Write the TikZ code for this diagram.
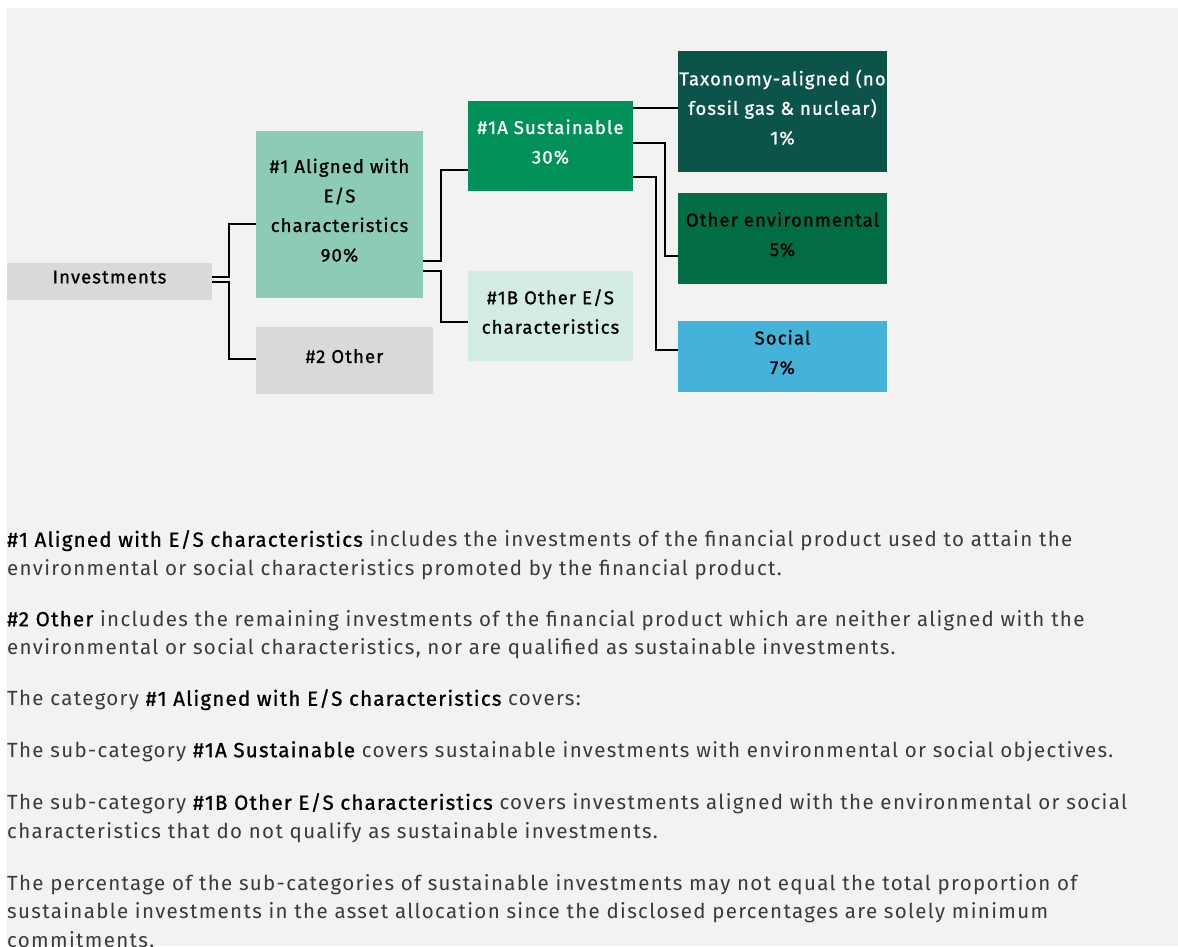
\documentclass[tikz,border=0pt]{standalone}
\usepackage{fontspec}
\setmainfont[LetterSpace=6.5]{Fira Sans}
\newfontfamily\medfont[FakeBold=1,LetterSpace=6]{Fira Sans}
\definecolor{pagegray}{HTML}{F2F2F2}
\definecolor{boxgray}{HTML}{D9D9D9}
\definecolor{alignedgreen}{HTML}{8DCBB9}
\definecolor{sustgreen}{HTML}{03915A}
\definecolor{paleteal}{HTML}{D2EBE4}
\definecolor{taxteal}{HTML}{0C5449}
\definecolor{envgreen}{HTML}{026D44}
\definecolor{socialblue}{HTML}{45B2D9}
\definecolor{bodytext}{HTML}{3A3A3A}
\newcommand{\hl}[1]{{\medfont\color{black}#1}}

\begin{document}
\begin{tikzpicture}[x=1pt,y=-1pt,
  box/.style={rectangle,inner sep=0pt,align=center,
    font=\medfont\fontsize{18.5}{29.5}\selectfont,
    execute at end node={\rule[-9pt]{0pt}{0pt}}},
  link/.style={draw=black,line width=1.6pt},
  para/.style={anchor=north west,inner sep=0pt,align=left,text=bodytext,
    font=\fontsize{20.5}{28.5}\selectfont}]
\useasboundingbox (0,0) rectangle (1178,946);
\fill[pagegray] (7,8) rectangle (1178,946);

% boxes of the tree
\node[box,fill=boxgray,minimum width=205,minimum height=37] (inv) at (109.5,281.5) {Investments};
\node[box,fill=alignedgreen,minimum width=167,minimum height=167] (al) at (339.5,214.5) {\#1 Aligned with\\E/S\\characteristics\\90\%};
\node[box,fill=boxgray,minimum width=177,minimum height=67] (oth) at (344.5,360.5) {\#2 Other};
\node[box,fill=sustgreen,text=white,minimum width=165,minimum height=90] (sus) at (550.5,146) {\#1A Sustainable\\30\%};
\node[box,fill=paleteal,minimum width=165,minimum height=90] (oes) at (550.5,316) {\#1B Other E/S\\characteristics};
\node[box,fill=taxteal,text=white,minimum width=209,minimum height=121] (tax) at (782.5,111.5) {Taxonomy-aligned (no\\fossil gas \& nuclear)\\1\%};
\node[box,fill=envgreen,minimum width=209,minimum height=91] (env) at (782.5,238.5) {Other environmental\\5\%};
\node[box,fill=socialblue,minimum width=209,minimum height=71] (soc) at (782.5,356.5) {Social\\7\%};

% connectors
\draw[link] ([yshift=4.5pt]inv.east) -- ++(17,0) |- ([yshift=-9.5pt]al.west);
\draw[link] ([yshift=-0.5pt]inv.east) -- ++(17,0) |- ([yshift=1.5pt]oth.west);
\draw[link] ([yshift=-46.5pt]al.east) -- ++(18,0) |- ([yshift=-24pt]sus.west);
\draw[link] ([yshift=-56.5pt]al.east) -- ++(18,0) |- ([yshift=-6pt]oes.west);
\draw[link] ([yshift=38pt]sus.east) -- ([yshift=3.5pt]tax.west);
\draw[link] ([yshift=3pt]sus.east) -- ++(32,0) |- ([yshift=-17.5pt]env.west);
\draw[link] ([yshift=-31pt]sus.east) -- ++(23,0) |- ([yshift=6.5pt]soc.west);

% explanations
\node[para] (p1) at (7,530) {\hl{\#1 Aligned with E/S characteristics} includes the investments of the financial product used to attain the\\environmental or social characteristics promoted by the financial product.};
\node[para] (p2) at (7,610) {\hl{\#2 Other} includes the remaining investments of the financial product which are neither aligned with the\\environmental or social characteristics, nor are qualified as sustainable investments.};
\node[para] (p3) at (7,689) {The category \hl{\#1 Aligned with E/S characteristics} covers:};
\node[para] (p4) at (7,741) {The sub-category \hl{\#1A Sustainable} covers sustainable investments with environmental or social objectives.};
\node[para] (p5) at (7,793) {The sub-category \hl{\#1B Other E/S characteristics} covers investments aligned with the environmental or social\\characteristics that do not qualify as sustainable investments.};
\node[para] (p6) at (7,874) {The percentage of the sub-categories of sustainable investments may not equal the total proportion of\\sustainable investments in the asset allocation since the disclosed percentages are solely minimum\\commitments.};
\end{tikzpicture}
\end{document}
